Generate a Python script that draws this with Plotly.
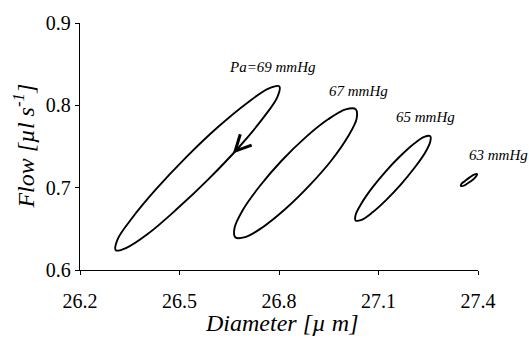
import plotly.graph_objects as go

# Pressure–diameter–flow loops at four arterial pressures
loop_labels = ["Pa=69 mmHg", "67 mmHg", "65 mmHg", "63 mmHg"]

diam_69 = [26.801, 26.795, 26.753, 26.681, 26.589, 26.492, 26.405, 26.340,
           26.308, 26.313, 26.356, 26.428, 26.519, 26.616, 26.704, 26.768]
flow_69 = [0.823, 0.810, 0.785, 0.750, 0.711, 0.674, 0.644, 0.627,
           0.624, 0.637, 0.6625, 0.6975, 0.7365, 0.7736, 0.8029, 0.8204]

diam_67 = [27.031, 27.034, 27.008, 26.959, 26.892, 26.819, 26.751, 26.698,
           26.668, 26.666, 26.691, 26.741, 26.807, 26.880, 26.948, 27.001]
flow_67 = [0.7954, 0.7838, 0.7621, 0.7336, 0.7027, 0.6740, 0.6520, 0.6399,
           0.6397, 0.6513, 0.6730, 0.7014, 0.7324, 0.7611, 0.7830, 0.7951]

diam_65 = [27.256, 27.256, 27.240, 27.208, 27.167, 27.122, 27.081, 27.049,
           27.031, 27.031, 27.048, 27.079, 27.120, 27.165, 27.206, 27.238]
flow_65 = [0.7626, 0.7558, 0.7422, 0.7239, 0.7037, 0.6846, 0.6697, 0.6610,
           0.6601, 0.6669, 0.6805, 0.6988, 0.7190, 0.7381, 0.7531, 0.7617]

diam_63 = [27.397, 27.389, 27.376, 27.361, 27.349, 27.350, 27.361, 27.376, 27.390]
flow_63 = [0.7166, 0.7112, 0.7072, 0.7032, 0.7020, 0.7046, 0.7082, 0.7128, 0.7162]

# label anchor positions (data units)
label_x = [26.780, 27.039, 27.243, 27.366]
label_y = [0.846, 0.817, 0.786, 0.740]
label_anchor = ["center", "center", "center", "left"]

x_ticks = [26.2, 26.5, 26.8, 27.1, 27.4]
y_ticks = [0.6, 0.7, 0.8, 0.9]

# the direction arrow on the 69 mmHg loop sits between these two loop points
arrow_from, arrow_to, arrow_frac = 3, 4, 0.22

FONT = "Liberation Serif"


def closed(seq):
    """Start the loop halfway along a flank so the spline seam is on a straight part."""
    k = len(seq) // 4 * 3
    s = seq[k:] + seq[:k]
    return s + s[:1]


fig = go.Figure()
for xs, ys in [(diam_69, flow_69), (diam_67, flow_67), (diam_65, flow_65), (diam_63, flow_63)]:
    fig.add_trace(go.Scatter(
        x=closed(xs), y=closed(ys), mode="lines",
        line=dict(color="black", width=1.9, shape="spline", smoothing=1.0),
        showlegend=False, hoverinfo="skip",
    ))

for txt, lx, ly, anc in zip(loop_labels, label_x, label_y, label_anchor):
    fig.add_annotation(x=lx, y=ly, xref="x", yref="y", text=f"<i>{txt}</i>",
                       showarrow=False, xanchor=anc, yanchor="middle",
                       font=dict(family=FONT, size=15, color="black"))

# direction-of-travel arrow on the 69 mmHg loop
x0, y0 = diam_69[arrow_from], flow_69[arrow_from]
x1, y1 = diam_69[arrow_to], flow_69[arrow_to]
tip_x = x0 + arrow_frac * (x1 - x0)
tip_y = y0 + arrow_frac * (y1 - y0)
fig.add_annotation(x=tip_x, y=tip_y, ax=x0, ay=y0,
                   xref="x", yref="y", axref="x", ayref="y", text="",
                   showarrow=True, arrowhead=5, arrowsize=2.2, arrowwidth=1.4,
                   arrowcolor="black")

# axis titles
fig.add_annotation(x=0.506, y=-0.214, xref="paper", yref="paper",
                   text="<i>Diameter [\u00b5 m]</i>", showarrow=False,
                   xanchor="center", yanchor="middle",
                   font=dict(family=FONT, size=24, color="black"))
fig.add_annotation(x=-0.143, y=0.5, xref="paper", yref="paper", textangle=-90,
                   text="<i>Flow [\u00b5l s<sup>-1</sup>]</i>", showarrow=False,
                   xanchor="center", yanchor="middle",
                   font=dict(family=FONT, size=24, color="black"))

fig.update_layout(
    width=529, height=354, margin=dict(l=80, r=51, t=13, b=84),
    font=dict(family=FONT, size=20, color="black"),
    plot_bgcolor="white", paper_bgcolor="white",
    xaxis=dict(range=[26.2, 27.4], tickmode="array", tickvals=x_ticks,
               ticktext=[f"{v:.1f}" for v in x_ticks],
               showline=True, linecolor="black", linewidth=1.3, showgrid=False,
               zeroline=False, ticks="outside", ticklen=4, tickwidth=1.2,
               tickcolor="black", ticklabelstandoff=9,
               tickfont=dict(family=FONT, size=20, color="black")),
    yaxis=dict(range=[0.6, 0.9], tickmode="array", tickvals=y_ticks,
               ticktext=[f"{v:.1f}" for v in y_ticks],
               showline=True, linecolor="black", linewidth=1.3, showgrid=False,
               zeroline=False, ticks="outside", ticklen=4, tickwidth=1.2,
               tickcolor="black", ticklabelstandoff=0,
               tickfont=dict(family=FONT, size=20, color="black")),
)

fig.write_html("out.html")
